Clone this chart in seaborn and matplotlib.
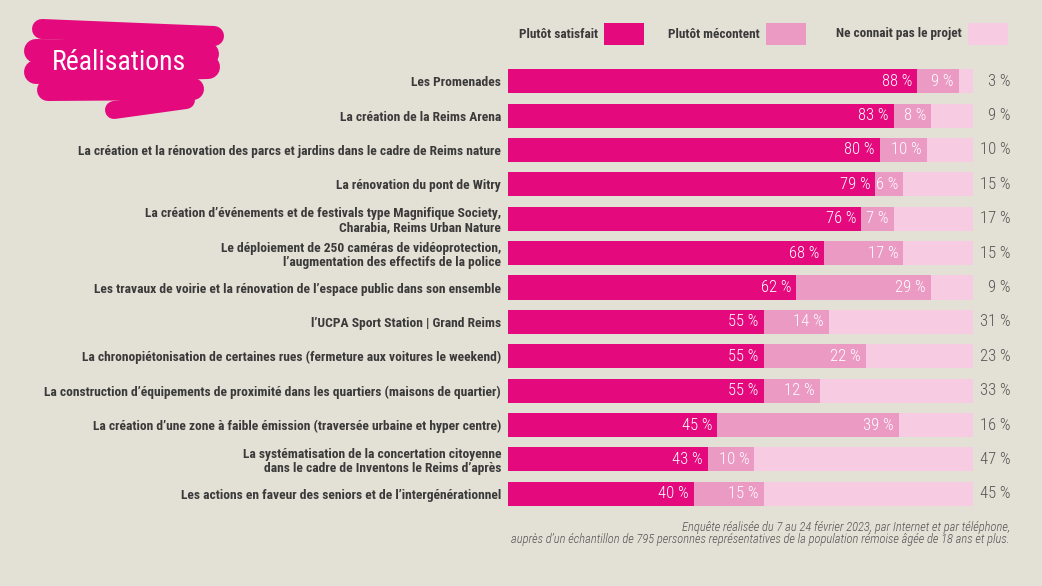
import matplotlib
matplotlib.use("Agg")
import matplotlib.pyplot as plt
import seaborn as sns
import pandas as pd
from matplotlib.lines import Line2D
from matplotlib.patches import Rectangle

categories = [
    "Les Promenades",
    "La création de la Reims Arena",
    "La création et la rénovation des parcs et jardins dans le cadre de Reims nature",
    "La rénovation du pont de Witry",
    "La création d’événements et de festivals type Magnifique Society,\nCharabia, Reims Urban Nature",
    "Le déploiement de 250 caméras de vidéoprotection,\nl’augmentation des effectifs de la police",
    "Les travaux de voirie et la rénovation de l’espace public dans son ensemble",
    "l’UCPA Sport Station | Grand Reims",
    "La chronopiétonisation de certaines rues (fermeture aux voitures le weekend)",
    "La construction d’équipements de proximité dans les quartiers (maisons de quartier)",
    "La création d’une zone à faible émission (traversée urbaine et hyper centre)",
    "La systématisation de la concertation citoyenne\ndans le cadre de Inventons le Reims d’après",
    "Les actions en faveur des seniors et de l’intergénérationnel",
]
satisfait = [88, 83, 80, 79, 76, 68, 62, 55, 55, 55, 45, 43, 40]
mecontent = [9, 8, 10, 6, 7, 17, 29, 14, 22, 12, 39, 10, 15]
ne_connait = [3, 9, 10, 15, 17, 15, 9, 31, 23, 33, 16, 47, 45]
series_names = ["Plutôt satisfait", "Plutôt mécontent", "Ne connait pas le projet"]

BG = "#E3E0D5"
C1, C2, C3 = "#E4097D", "#EB9AC4", "#F7CCE2"
TXT = "#3A3A3A"

sns.set_theme(style="white")
FAM = ["Roboto Condensed", "IBM Plex Sans Condensed", "DejaVu Sans"]
plt.rcParams["font.family"] = FAM

W, H = 1042, 586
fig = plt.figure(figsize=(W / 100, H / 100), dpi=100, facecolor=BG)
ax = fig.add_axes([508 / W, 1 - 511 / H, 465 / W, (511 - 64) / H])
ax.set_facecolor(BG)

df = pd.DataFrame({"cat": categories, "s": satisfait, "m": mecontent, "n": ne_connait})
df["sm"] = df["s"] + df["m"]
df["tot"] = df["sm"] + df["n"]

for col, c in (("tot", C3), ("sm", C2), ("s", C1)):
    sns.barplot(data=df, y="cat", x=col, color=c, width=0.7, ax=ax, saturation=1,
                orient="h", linewidth=0, edgecolor="none")

ax.set_xlim(0, 100)
ax.set_ylim(12.5, -0.5)
ax.set_xlabel("")
ax.set_ylabel("")
ax.set_xticks([])
for s in ax.spines.values():
    s.set_visible(False)
ax.tick_params(axis="y", length=0, pad=5)
for lab in ax.get_yticklabels():
    lab.set_fontsize(9.7)
    lab.set_fontweight("bold")
    lab.set_color(TXT)
    lab.set_family(FAM)
    lab.set_linespacing(1.1)

off = 1.1
for i, (s, m, n) in enumerate(zip(satisfait, mecontent, ne_connait)):
    ax.text(s - off, i, f"{s} %", ha="right", va="center", color="white", fontsize=12, fontweight="light")
    ax.text(s + m - off, i, f"{m} %", ha="right", va="center", color="white", fontsize=12, fontweight="light")
    ax.text(108, i, f"{n} %", ha="right", va="center", color="#555555", fontsize=12,
            fontweight="light", clip_on=False)

def px(x, y):
    return x / W, 1 - y / H

leg = [(598, 604, C1), (760, 766, C2), (962, 968, C3)]
for name, (tx, bx, col) in zip(series_names, leg):
    fig.text(*px(tx, 34), name, ha="right", va="center", fontsize=9.5, fontweight="bold", color=TXT)
    fig.patches.append(Rectangle(px(bx, 45), 40 / W, 22 / H, transform=fig.transFigure,
                                 facecolor=col, edgecolor="none"))

strokes = [((42, 29), (214, 36), 20), ((36, 51), (207, 54), 24), ((36, 72), (208, 67), 24),
           ((48, 90), (193, 89), 22), ((114, 110), (186, 100), 18)]
for (x0, y0), (x1, y1), w in strokes:
    p0, p1 = px(x0, y0), px(x1, y1)
    fig.lines.append(Line2D([p0[0], p1[0]], [p0[1], p1[1]], transform=fig.transFigure,
                            color=C1, linewidth=w * 0.72, solid_capstyle="round"))
fig.text(*px(52, 62), "Réalisations", ha="left", va="center", fontsize=20, color="white")

fig.text(*px(1010, 527), "Enquête réalisée du 7 au 24 février 2023, par Internet et par téléphone,",
         ha="right", va="center", fontsize=9, style="italic", fontweight="light", color="#555555")
fig.text(*px(1010, 540), "auprès d’un échantillon de 795 personnes représentatives de la population rémoise âgée de 18 ans et plus.",
         ha="right", va="center", fontsize=9, style="italic", fontweight="light", color="#555555")

fig.savefig("out.png", dpi=100, facecolor=BG)
